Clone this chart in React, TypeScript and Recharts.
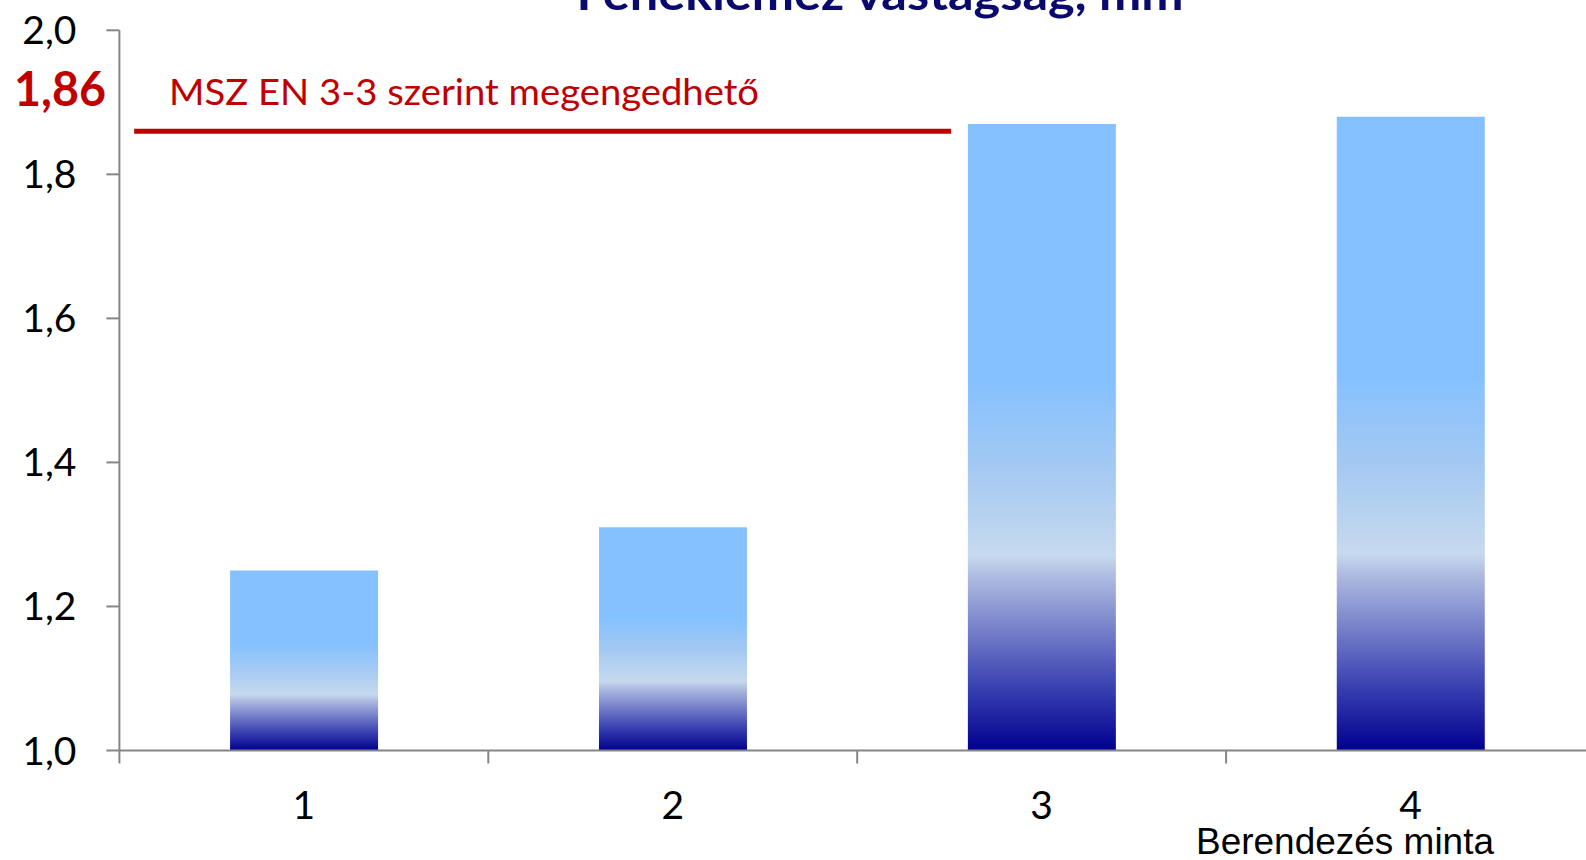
import React from 'react';
import { BarChart, Bar, XAxis, YAxis, ReferenceLine, Customized } from 'recharts';

const categories = ['1', '2', '3', '4'];
const thickness = [1.25, 1.31, 1.87, 1.88];
const yTicks = [1.0, 1.2, 1.4, 1.6, 1.8, 2.0];
const limitValue = 1.86;
const limitLabel = '1,86';
const limitText = 'MSZ EN 3-3 szerint megengedhető';
const title = 'Fenéklemez vastagság, mm';
const xTitle = 'Berendezés minta';

const data = categories.map((c, i) => ({ name: c, value: thickness[i] }));

const fmt = (v: number) => v.toFixed(1).replace('.', ',');

const YTick = (props: any) => {
  const { x, y, payload } = props;
  return (
    <text x={x} y={y + 14} textAnchor="end" fontFamily="Lato" fontSize={39} fill="#000">
      {fmt(payload.value)}
    </text>
  );
};

const XTick = (props: any) => {
  const { x, y, payload } = props;
  const half = payload && payload.offset ? payload.offset : 0;
  return (
    <g>
      <line x1={x - half} x2={x - half} y1={y} y2={y + 13} stroke="#868686" strokeWidth={2} />
      <text x={x} y={y + 68} textAnchor="middle" fontFamily="Lato" fontSize={39} fill="#000">
        {payload.value}
      </text>
    </g>
  );
};

const LimitShape = (props: any) => {
  const { x1, x2, y1 } = props;
  const w = x2 - x1;
  return (
    <line x1={x1 + 0.01 * w} x2={x1 + 0.5636 * w} y1={y1} y2={y1} stroke="#c00000" strokeWidth={5} />
  );
};

const Texts = () => (
  <g>
    <text x={880} y={10} textAnchor="middle" fontFamily="Lato" fontWeight="bold" fontSize={46} fill="#0a0a6e" textLength={607} lengthAdjust="spacingAndGlyphs">
      {title}
    </text>
    <text x={14} y={106} fontFamily="Lato" fontWeight="bold" fontSize={48} fill="#c00000" textLength={92} lengthAdjust="spacingAndGlyphs">
      {limitLabel}
    </text>
    <text x={169} y={105} fontFamily="Lato" fontSize={36} fill="#c00000" textLength={590} lengthAdjust="spacingAndGlyphs">
      {limitText}
    </text>
    <text x={1196} y={854} fontFamily="Liberation Sans" fontSize={37} fill="#000" textLength={298} lengthAdjust="spacingAndGlyphs">
      {xTitle}
    </text>
  </g>
);

export default function App() {
  return (
    <div style={{ position: 'absolute', left: 0, top: 0, width: 1586, height: 860, overflow: 'hidden', background: '#fff' }}>
      <BarChart
        width={1620}
        height={860}
        data={data}
        margin={{ top: 30.3, right: 25, bottom: 49.5, left: 0.4 }}
        barCategoryGap="30%"
      >
        <defs>
          <linearGradient id="barGrad" x1="0" y1="0" x2="0" y2="1">
            <stop offset="0" stopColor="#85c1ff" />
            <stop offset="0.41" stopColor="#85c1ff" />
            <stop offset="0.55" stopColor="#a4c9f2" />
            <stop offset="0.69" stopColor="#c6d9ee" />
            <stop offset="0.72" stopColor="#b0bde2" />
            <stop offset="0.8" stopColor="#7a85cc" />
            <stop offset="0.9" stopColor="#3840b0" />
            <stop offset="1" stopColor="#00008f" />
          </linearGradient>
        </defs>
        <XAxis
          dataKey="name"
          height={60}
          axisLine={{ stroke: '#868686', strokeWidth: 2 }}
          tickLine={false}
          tickSize={0}
          tickMargin={0}
          tick={<XTick />}
          interval={0}
        />
        <YAxis
          width={119}
          domain={[1, 2]}
          ticks={yTicks}
          allowDataOverflow
          axisLine={{ stroke: '#868686', strokeWidth: 2 }}
          tickLine={{ stroke: '#868686', strokeWidth: 2 }}
          tickSize={13}
          tickMargin={30}
          tick={<YTick />}
        />
        <Bar dataKey="value" fill="url(#barGrad)" isAnimationActive={false} />
        <ReferenceLine y={limitValue} shape={<LimitShape />} />
        <Customized component={Texts} />
      </BarChart>
    </div>
  );
}
